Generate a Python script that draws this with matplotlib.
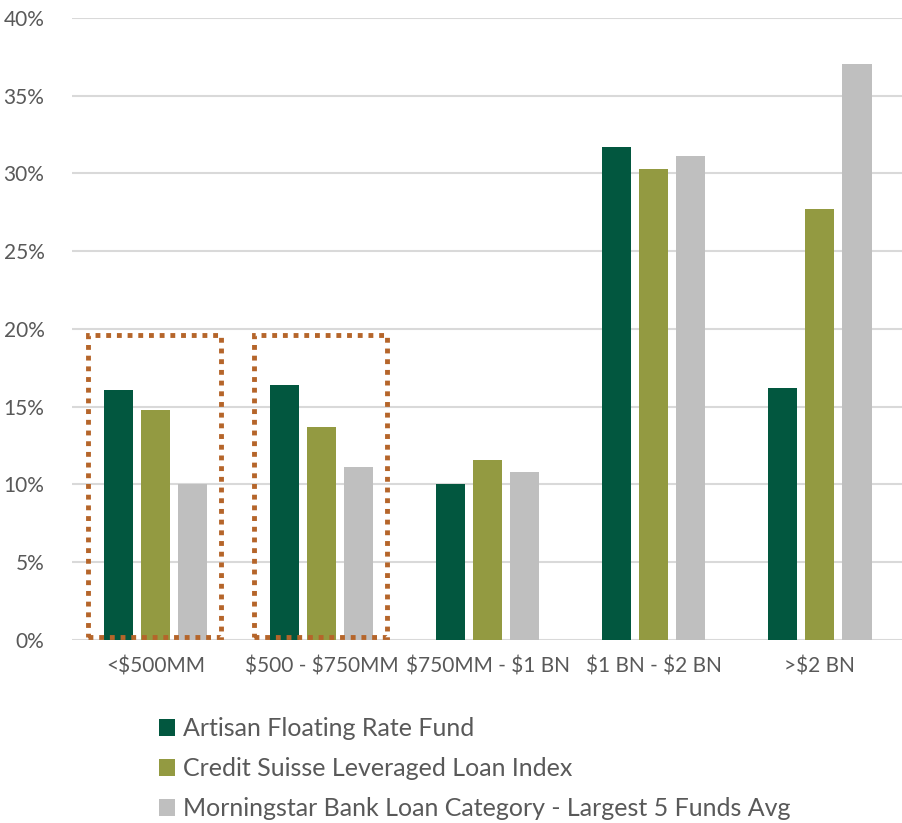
import matplotlib
matplotlib.use("Agg")
import matplotlib.pyplot as plt
from matplotlib.patches import Rectangle, Patch
import numpy as np

categories = ["<$500MM", "$500 - $750MM", "$750MM - $1 BN", "$1 BN - $2 BN", ">$2 BN"]
artisan = [16.1, 16.4, 10.0, 31.7, 16.2]
credit_suisse = [14.8, 13.7, 11.6, 30.3, 27.7]
morningstar = [10.0, 11.1, 10.8, 31.1, 37.0]
series_names = ["Artisan Floating Rate Fund",
                "Credit Suisse Leveraged Loan Index",
                "Morningstar Bank Loan Category - Largest 5 Funds Avg"]
colors = ["#02573F", "#939A41", "#BFBFBF"]
highlight = [0, 1]  # categories boxed with dotted outline

plt.rcParams["font.family"] = ["Lato", "DejaVu Sans"]
plt.rcParams["text.parse_math"] = False
text_color = "#595959"

fig = plt.figure(figsize=(9.03, 8.23), dpi=100)
ax = fig.add_axes([0.08, 0.2224, 0.92, 0.756])

x = np.arange(len(categories))
w = 0.175
step = 0.223
for i, vals in enumerate([artisan, credit_suisse, morningstar]):
    ax.bar(x + (i - 1) * step, vals, w, color=colors[i], zorder=3)

for c in highlight:
    ax.add_patch(Rectangle((c - 0.405, 0.2), 0.8, 19.4, fill=False,
                           edgecolor="#B5652A", linewidth=3.5,
                           linestyle=(0, (1, 1.2)), zorder=4))

ax.set_xlim(-0.5, len(categories) - 0.5)
ax.set_ylim(0, 40)
ax.set_yticks(np.arange(0, 41, 5))
ax.set_yticklabels([f"{v}%" for v in range(0, 41, 5)])
ax.set_xticks(x)
ax.set_xticklabels(categories)
ax.grid(axis="y", color="#D9D9D9", linewidth=1.5, zorder=0)
for s in ax.spines.values():
    s.set_visible(False)
ax.tick_params(length=0, labelsize=15, colors=text_color)
ax.tick_params(axis="x", pad=12)
ax.tick_params(axis="y", pad=20)

handles = [Patch(facecolor=c) for c in colors]
fig.legend(handles, series_names, loc="upper left", bbox_to_anchor=(0.165, 0.141),
           frameon=False, fontsize=18, labelcolor=text_color,
           handlelength=0.65, handleheight=0.65, handletextpad=0.3,
           labelspacing=0.68, borderaxespad=0)

fig.savefig("out.png", dpi=100)
